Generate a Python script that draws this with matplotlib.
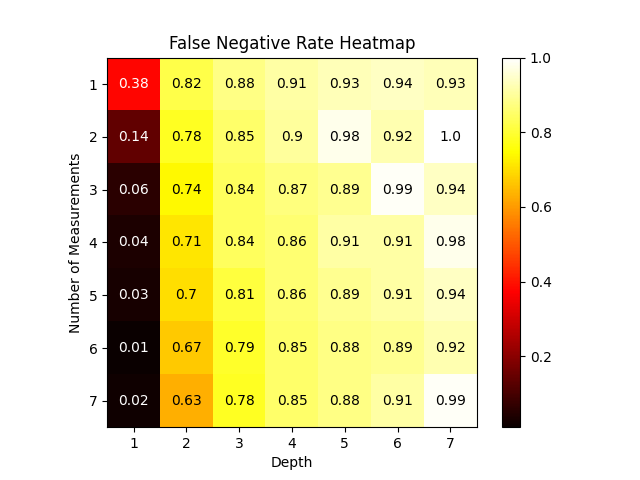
import matplotlib
matplotlib.use("Agg")
import matplotlib.pyplot as plt
import numpy as np

# rows = number of measurements, cols = depth
depths = [1, 2, 3, 4, 5, 6, 7]
measurements = [1, 2, 3, 4, 5, 6, 7]
fnr = np.array([
    [0.38, 0.82, 0.88, 0.91, 0.93, 0.94, 0.93],
    [0.14, 0.78, 0.85, 0.90, 0.98, 0.92, 1.00],
    [0.06, 0.74, 0.84, 0.87, 0.89, 0.99, 0.94],
    [0.04, 0.71, 0.84, 0.86, 0.91, 0.91, 0.98],
    [0.03, 0.70, 0.81, 0.86, 0.89, 0.91, 0.94],
    [0.01, 0.67, 0.79, 0.85, 0.88, 0.89, 0.92],
    [0.02, 0.63, 0.78, 0.85, 0.88, 0.91, 0.99],
])

fig, ax = plt.subplots(figsize=(6.4, 4.8), dpi=100)
im = ax.imshow(fnr, cmap='hot')
fig.colorbar(im, ax=ax)

for i in range(len(measurements)):
    for j in range(len(depths)):
        v = fnr[i, j]
        ax.text(j, i, str(round(v, 2)), ha='center', va='center',
                color='white' if v < 0.5 else 'black')

ax.set_xticks(range(len(depths)))
ax.set_xticklabels(depths)
ax.set_yticks(range(len(measurements)))
ax.set_yticklabels(measurements)
ax.set_xlabel('Depth')
ax.set_ylabel('Number of Measurements')
ax.set_title('False Negative Rate Heatmap')

plt.savefig('out.png')
